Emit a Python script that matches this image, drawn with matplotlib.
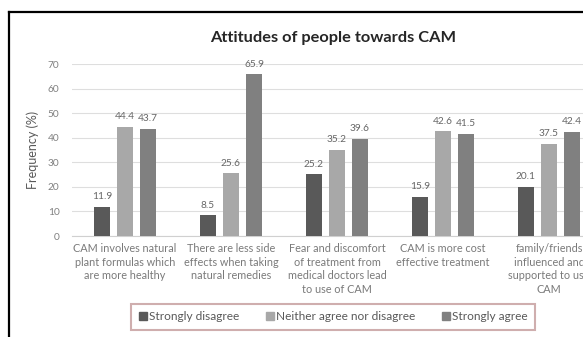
import matplotlib
matplotlib.use("Agg")
import matplotlib.pyplot as plt
import numpy as np
from matplotlib.lines import Line2D

plt.rcParams['font.family'] = ['Lato', 'DejaVu Sans']

categories = [
    "CAM involves natural\nplant formulas which\nare more healthy",
    "There are less side\neffects when taking\nnatural remedies",
    "Fear and discomfort\nof treatment from\nmedical doctors lead\nto use of CAM",
    "CAM is more cost\neffective treatment",
    "family/friends\ninfluenced and\nsupported to use\nCAM",
]
series_names = ["Strongly disagree", "Neither agree nor disagree", "Strongly agree"]
strongly_disagree = [11.9, 8.5, 25.2, 15.9, 20.1]
neither = [44.4, 25.6, 35.2, 42.6, 37.5]
strongly_agree = [43.7, 65.9, 39.6, 41.5, 42.4]
yticks = [0, 10, 20, 30, 40, 50, 60, 70]

colors = ["#595959", "#a8a8a8", "#808080"]
W, H = 583, 337
fig = plt.figure(figsize=(W / 100, H / 100), dpi=100)

# plot area runs past the right edge of the canvas
left, right, bottom, top = 72, 602, 236, 64
ax = fig.add_axes([left / W, 1 - bottom / H, (right - left) / W, (bottom - top) / H])

x = np.arange(len(categories))
width = 0.16
offsets = [-0.217, 0.0, 0.217]
for vals, off, col, name in zip([strongly_disagree, neither, strongly_agree], offsets, colors, series_names):
    bars = ax.bar(x + off, vals, width=width, color=col, label=name, zorder=3)
    for b, v in zip(bars, vals):
        ax.annotate(f"{v}", (b.get_x() + b.get_width() / 2, v), xytext=(0, 4),
                    textcoords="offset points", ha="center", va="bottom",
                    fontsize=7.3, color="#666666", annotation_clip=False)

ax.set_xlim(-0.5, len(categories) - 0.5)
ax.set_ylim(0, 70)
ax.set_yticks(yticks)
ax.yaxis.grid(True, color="#dedede", linewidth=0.8, zorder=0)
ax.set_axisbelow(True)
for s in ["top", "right", "left"]:
    ax.spines[s].set_visible(False)
ax.spines["bottom"].set_color("#d0d0d0")
ax.tick_params(axis="y", length=0, labelsize=7.3, labelcolor="#808080", pad=9)
ax.tick_params(axis="x", length=0)
ax.set_xticks(x)
ax.set_xticklabels(categories, fontsize=7.8, color="#7a7a7a", linespacing=1.3, va="top")
ax.tick_params(axis="x", pad=5)
ax.set_ylabel("Frequency (%)", fontsize=9, color="#595959", labelpad=6)

fig.text(333 / W, 1 - 38 / H, "Attitudes of people towards CAM", ha="center", va="center",
         fontsize=11.8, fontweight="bold", color="#262626")

handles = [Line2D([], [], marker="s", linestyle="none", markersize=6, color=c) for c in colors]
leg = fig.legend(handles, series_names, loc="center", bbox_to_anchor=(333 / W, 1 - 317 / H),
                 ncol=3, fontsize=8.6, frameon=True, fancybox=False, handletextpad=0.1,
                 columnspacing=2.2, borderpad=0.6, handlelength=0.8)
for t in leg.get_texts():
    t.set_color("#595959")
leg.get_frame().set_edgecolor("#c49a9a")
leg.get_frame().set_linewidth(1.5)

# outer frame (top and left edges)
fig.add_artist(Line2D([9 / W, 1.0], [1 - 12 / H, 1 - 12 / H], color="black", linewidth=1.6,
                      transform=fig.transFigure))
fig.add_artist(Line2D([9 / W, 9 / W], [1 - 12 / H, 0], color="black", linewidth=1.6,
                      transform=fig.transFigure))

fig.savefig("out.png", dpi=100)
